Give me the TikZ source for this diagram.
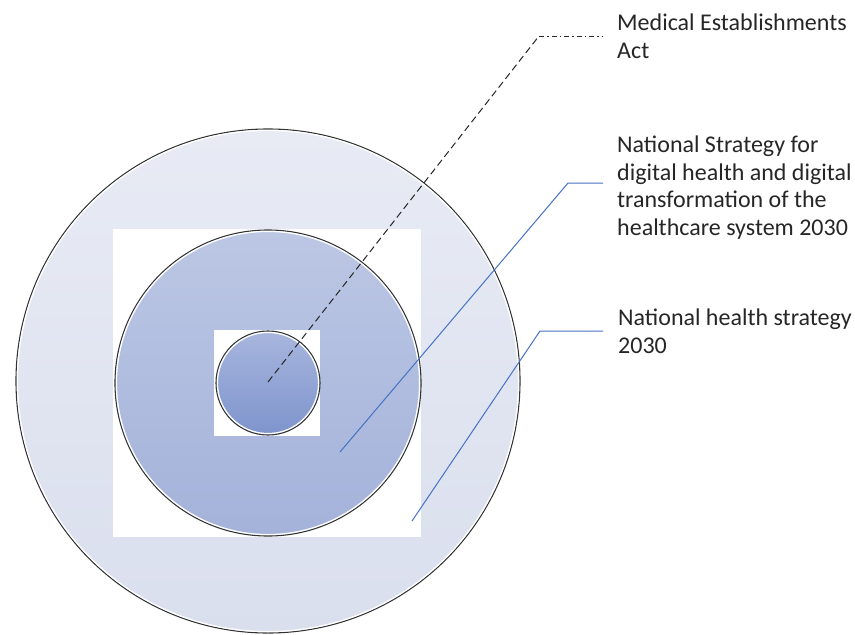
\documentclass[tikz,border=0pt]{standalone}
\usepackage{fontspec}
\setmainfont{Carlito}
\definecolor{leadblue}{RGB}{68,114,196}
\definecolor{inkgray}{RGB}{38,38,38}
\begin{document}
\begin{tikzpicture}[x=1pt,y=-1pt,
  rim/.style={draw=white, line width=1.3pt},
  edge/.style={draw=black!80, line width=1.1pt},
  lbl/.style={anchor=north west, align=left, text=inkgray,
              font=\fontsize{24}{27.4}\selectfont, inner sep=0pt},
  lead/.style={draw=leadblue, line width=1pt}]
\useasboundingbox (0,0) rectangle (855,635);
% outer ring
\shade[top color={rgb,255:red,232;green,235;blue,244}, bottom color={rgb,255:red,218;green,223;blue,238}]
  (268,381) circle (252);
\draw[edge] (268,381) circle (252);
\draw[rim] (268,381) circle (250.6);
% white backing square of the middle ring
\fill[white] (113,229) rectangle (421,537);
\shade[top color={rgb,255:red,188;green,199;blue,228}, bottom color={rgb,255:red,164;green,178;blue,218}]
  (268,383) circle (153);
\draw[edge] (268,383) circle (153);
\draw[rim] (268,383) circle (151.6);
% white backing square of the inner ring
\fill[white] (214,330) rectangle (320,436);
\shade[top color={rgb,255:red,168;green,182;blue,222}, bottom color={rgb,255:red,126;green,148;blue,204}]
  (268,383) circle (52);
\draw[edge] (268,383) circle (52);
\draw[rim] (268,383) circle (50.6);
% anchor points of the leaders
\coordinate (c1) at (268,382);
\coordinate (k1) at (539,36);
\coordinate (e1) at (603,36);
\coordinate (c2) at (340,452);
\coordinate (k2) at (568,183);
\coordinate (e2) at (603,183);
\coordinate (c3) at (412,521);
\coordinate (k3) at (540,331);
\coordinate (e3) at (603,331);
% labels
\node[lbl] (t1) at (617,14) {Medical Establishments\\Act};
\node[lbl] (t2) at (617,136) {National Strategy for\\digital health and digital\\transformation of the\\healthcare system 2030};
\node[lbl] (t3) at (618,309) {National health strategy\\2030};
% leaders
\draw[black!85, line width=1pt, dash pattern=on 7pt off 4pt] (c1) -- (k1);
\draw[black!85, line width=1pt, dash pattern=on 5pt off 3pt on 1.5pt off 3pt] (k1) -- (e1);
\draw[lead] (c2) -- (k2) -- (e2);
\draw[lead] (c3) -- (k3) -- (e3);
\end{tikzpicture}
\end{document}
